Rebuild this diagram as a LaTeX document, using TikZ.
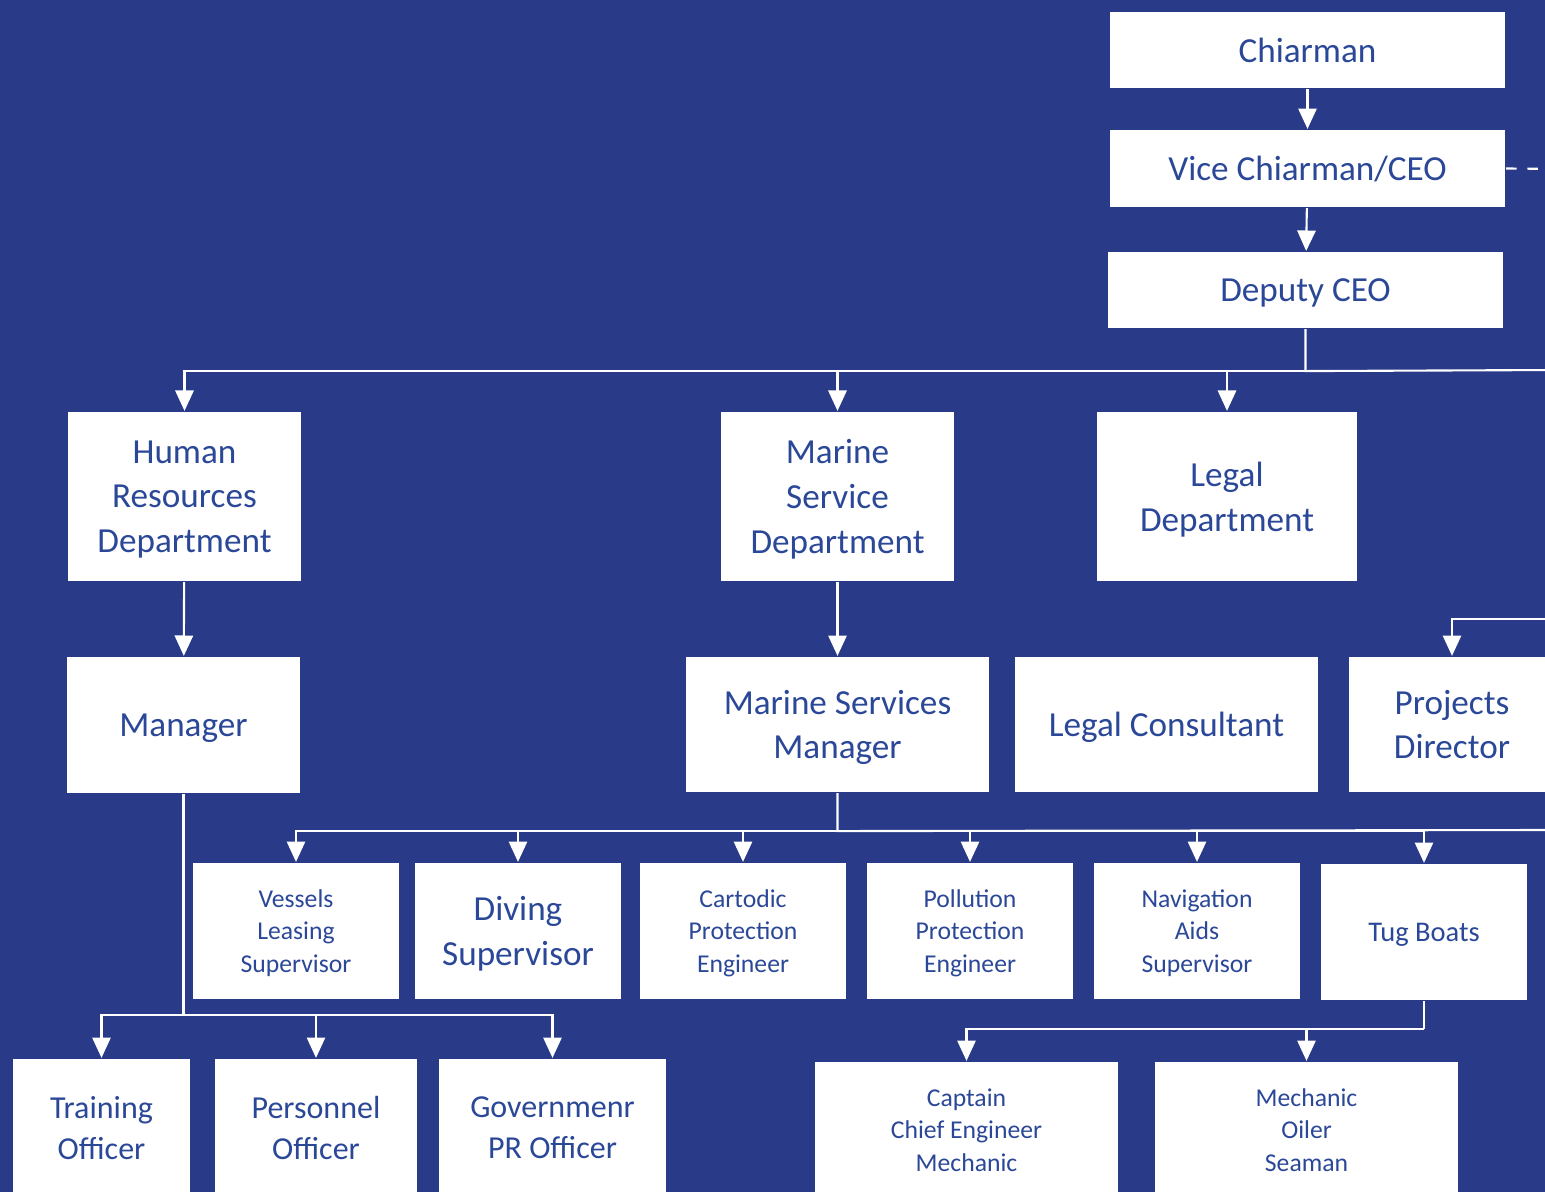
\documentclass[tikz,border=0pt]{standalone}
\usepackage{fontspec}
\setmainfont{Carlito}
\usepackage{tikz}
\usetikzlibrary{arrows.meta}
\definecolor{bg}{HTML}{283A88}
\definecolor{txt}{HTML}{2B4898}

\begin{document}
\begin{tikzpicture}[x=0.01cm, y=-0.01cm, color=white, line width=0.6pt,
  box/.style={fill=white, text=txt, align=center, inner sep=0pt, text depth=0pt},
  big/.style={font=\fontsize{10}{12.7}\selectfont},
  mid/.style={font=\fontsize{9.1}{11.6}\selectfont},
  sml/.style={font=\fontsize{7.3}{9.3}\selectfont},
  arr/.style={-{Triangle[width=5.2pt,length=5.8pt]}}]
  \fill[bg] (0,0) rectangle (1545,1192);
  \useasboundingbox (0,0) rectangle (1545,1192);
  \clip (0,0) rectangle (1545,1192);

  % top of the chart
  \node[box, big, minimum width=3.95cm, minimum height=0.76cm] (chair) at (1307.5,50) {Chiarman};
  \node[box, big, minimum width=3.95cm, minimum height=0.77cm] (vice) at (1307.5,168.5) {Vice Chiarman/CEO};
  \node[box, big, minimum width=3.95cm, minimum height=0.76cm] (dep) at (1305.5,290) {Deputy CEO};

  % departments
  \node[box, big, minimum width=2.33cm, minimum height=1.69cm] (hr) at (184.5,496.5) {Human\\Resources\\Department};
  \node[box, big, minimum width=2.33cm, minimum height=1.69cm] (msd) at (837.5,496.5) {Marine\\Service\\Department};
  \node[box, big, minimum width=2.60cm, minimum height=1.69cm] (legal) at (1227,496.5) {Legal\\Department};

  \node[box, big, minimum width=2.33cm, minimum height=1.36cm] (mgr) at (183.5,725) {Manager};
  \node[box, big, minimum width=3.03cm, minimum height=1.35cm] (msm) at (837.5,724.5) {Marine Services\\Manager};
  \node[box, big, minimum width=3.03cm, minimum height=1.35cm] (lcons) at (1166.5,724.5) {Legal Consultant};
  \node[box, big, minimum width=2.06cm, minimum height=1.35cm] (proj) at (1452,724.5) {Projects\\Director};

  % marine services row
  \foreach \n/\x/\t in {ves/296/{Vessels\\Leasing\\Supervisor}, cart/743/{Cartodic\\Protection\\Engineer},
      poll/970/{Pollution\\Protection\\Engineer}, nav/1197/{Navigation\\Aids\\Supervisor}}{
    \node[box, sml, minimum width=2.06cm, minimum height=1.36cm] (\n) at (\x,931) {\t};
  }
  \node[box, big, minimum width=2.06cm, minimum height=1.36cm] (div) at (518,931) {Diving\\Supervisor};
  \node[box, font=\fontsize{8.1}{10}\selectfont, minimum width=2.06cm, minimum height=1.36cm] (tug) at (1424,932) {Tug Boats};

  % bottom row
  \node[box, mid, minimum width=1.77cm, minimum height=1.38cm] (train) at (101.5,1128) {Training\\Officer};
  \node[box, mid, minimum width=2.02cm, minimum height=1.38cm] (pers) at (316,1128) {Personnel\\Officer};
  \node[box, mid, minimum width=2.27cm, minimum height=1.38cm] (gov) at (552.5,1128) {Governmenr\\PR Officer};
  \node[box, sml, minimum width=3.03cm, minimum height=1.36cm] (capt) at (966.5,1130) {Captain\\Chief Engineer\\Mechanic};
  \node[box, sml, minimum width=3.03cm, minimum height=1.36cm] (mech) at (1306.5,1130) {Mechanic\\Oiler\\Seaman};

  % connectors
  \coordinate (viceR) at (1560,169);
  \coordinate (depR) at (1560,370);
  \coordinate (projR) at (1560,619);
  \coordinate (msmR) at (1560,830);

  \draw[arr] (chair) -- (vice);
  \draw[arr] (vice) -- (dep);
  \draw[dash pattern=on 3pt off 3pt] (vice.east) -- (viceR);

  \draw (dep.south) -- ++(0,42) coordinate (depbus) -- (depR);
  \foreach \n in {hr,msd,legal}
    \draw[arr] (depbus) -| (\n.north);

  \draw[arr] (hr) -- (mgr);
  \draw[arr] (msd) -- (msm);
  \draw[arr] (projR) -| (proj.north);

  \draw (msm.south) -- ++(0,38) coordinate (msmbus) -- (msmR);
  \foreach \n in {ves,div,cart,poll,nav,tug}
    \draw[arr] (msmbus) -| (\n.north);

  \draw (mgr.south) -- ++(0,221) coordinate (mgrbus);
  \foreach \n in {train,pers,gov}
    \draw[arr] (mgrbus) -| (\n.north);

  \draw (tug.south) -- ++(0,28) coordinate (tugbus);
  \foreach \n in {capt,mech}
    \draw[arr] (tugbus) -| (\n.north);
\end{tikzpicture}
\end{document}
